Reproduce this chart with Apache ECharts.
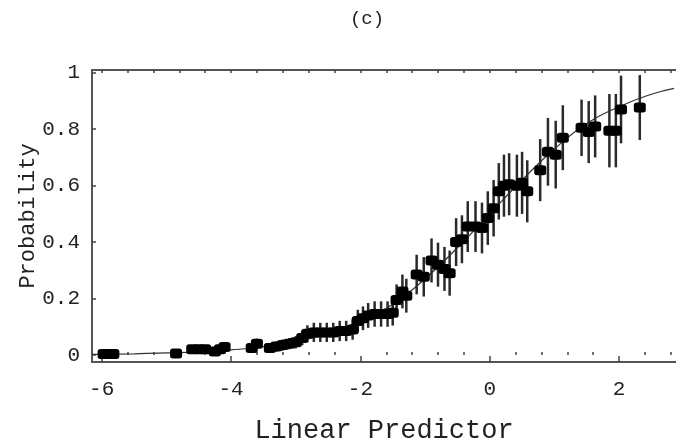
<!DOCTYPE html>
<html>
<head>
<meta charset="utf-8">
<script src="https://cdn.jsdelivr.net/npm/echarts@6/dist/echarts.min.js"></script>
<style>
  html, body { margin: 0; padding: 0; background: #fff; }
  #main { width: 676px; height: 440px; }
</style>
</head>
<body>
<div id="main"></div>
<script>
// observed points: linear predictor, probability, half width of error bar
const predictor = [-5.97, -5.9, -5.82, -4.85, -4.6, -4.5, -4.4, -4.25, -4.17, -4.1,
  -3.68, -3.6, -3.4, -3.3, -3.2, -3.1, -3.0, -2.9, -2.82, -2.72, -2.62, -2.52, -2.42,
  -2.32, -2.22, -2.12, -2.04, -1.96, -1.88, -1.78, -1.68, -1.58, -1.5, -1.44, -1.35,
  -1.29, -1.13, -1.02, -0.9, -0.8, -0.7, -0.62, -0.52, -0.43, -0.34, -0.22, -0.12,
  -0.03, 0.06, 0.14, 0.22, 0.3, 0.42, 0.5, 0.58, 0.78, 0.9, 1.02, 1.13, 1.42, 1.53,
  1.63, 1.85, 1.95, 2.03, 2.32]
const probability = [0.003, 0.003, 0.003, 0.005, 0.02, 0.02, 0.02, 0.012, 0.02, 0.028,
  0.025, 0.04, 0.025, 0.03, 0.035, 0.04, 0.045, 0.06, 0.075, 0.08, 0.08, 0.08, 0.08,
  0.085, 0.085, 0.09, 0.12, 0.13, 0.14, 0.145, 0.145, 0.145, 0.15, 0.195, 0.225,
  0.21, 0.285, 0.277, 0.335, 0.32, 0.305, 0.29, 0.40, 0.41, 0.455, 0.455, 0.45,
  0.485, 0.52, 0.58, 0.6, 0.605, 0.6, 0.61, 0.58, 0.655, 0.72, 0.71, 0.77, 0.805, 0.79,
  0.81, 0.795, 0.795, 0.87, 0.877]
const errHalf = [0.005, 0.005, 0.005, 0.006, 0.012, 0.012, 0.012, 0.01, 0.012, 0.014,
  0.014, 0.018, 0.016, 0.018, 0.02, 0.02, 0.022, 0.026, 0.03, 0.034, 0.034, 0.034, 0.034,
  0.036, 0.036, 0.036, 0.04, 0.042, 0.044, 0.045, 0.045, 0.045, 0.046, 0.055, 0.06,
  0.06, 0.07, 0.07, 0.078, 0.078, 0.078, 0.08, 0.085, 0.085, 0.09, 0.09, 0.09,
  0.095, 0.1, 0.1, 0.11, 0.11, 0.11, 0.11, 0.11, 0.11, 0.12, 0.12, 0.115, 0.1, 0.11,
  0.11, 0.13, 0.13, 0.12, 0.115]

// fitted curve
const curveX = [-6.15, -5.5, -5, -4.5, -4, -3.5, -3, -2.5, -2, -1.5, -1, -0.5, 0, 0.5, 1, 1.5, 2, 2.5, 2.85]
const curveY = [0.002, 0.004, 0.007, 0.011, 0.018, 0.029, 0.047, 0.076, 0.12, 0.18, 0.27, 0.38, 0.5, 0.62, 0.73, 0.82, 0.88, 0.924, 0.945]

// tick labels
const xMajor = [-6, -4, -2, 0, 2]
const xMinor = [-5.6, -5.2, -4.8, -4.4, -3.6, -3.2, -2.8, -2.4, -1.6, -1.2, -0.8, -0.4,
  0.4, 0.8, 1.2, 1.6, 2.4, 2.8]
const yMajor = [0, 0.2, 0.4, 0.6, 0.8, 1]

const chart = echarts.init(document.getElementById('main'))
const mono = 'Liberation Mono'
const frame = { lineStyle: { color: '#555', width: 2 } }

const points = predictor.map((x, i) => [x, probability[i]])
const bars = predictor.map((x, i) => [x, probability[i] - errHalf[i], probability[i] + errHalf[i]])
const curve = curveX.map((x, i) => [x, curveY[i]])

chart.setOption({
  animation: false,
  title: {
    text: '(c)',
    left: 362,
    top: 4,
    textAlign: 'center',
    textStyle: { fontFamily: mono, fontSize: 19, fontWeight: 'normal', color: '#222' },
  },
  grid: { left: 92, right: 0, top: 70, bottom: 78, outerBoundsMode: 'none', containLabel: false },
  xAxis: [
    {
      type: 'value',
      min: -6.15,
      max: 2.88,
      position: 'bottom',
      axisLine: { show: true, onZero: false, ...frame },
      splitLine: { show: false },
      axisTick: { inside: true, length: 6, customValues: xMajor, lineStyle: { color: '#444', width: 1.5 } },
      axisLabel: {
        customValues: xMajor,
        margin: 17,
        fontFamily: mono,
        fontSize: 21,
        color: '#222',
        formatter: v => (v < 0 ? '-' + Math.abs(v) : String(v)),
      },
      name: 'Linear Predictor',
      nameLocation: 'middle',
      nameGap: 55,
      nameTextStyle: { fontFamily: mono, fontSize: 27, color: '#222' },
    },
    {
      type: 'value',
      min: -6.15,
      max: 2.88,
      position: 'bottom',
      axisLine: { show: false },
      splitLine: { show: false },
      axisTick: { inside: true, length: 3, customValues: xMinor, lineStyle: { color: '#444', width: 1.5 } },
      axisLabel: { show: false },
    },
    {
      type: 'value',
      min: -6.15,
      max: 2.88,
      position: 'top',
      axisLine: { show: true, onZero: false, ...frame },
      splitLine: { show: false },
      axisTick: { inside: true, length: 3, customValues: xMajor.concat(xMinor), lineStyle: { color: '#444', width: 1.5 } },
      axisLabel: { show: false },
    },
  ],
  yAxis: [
    {
      type: 'value',
      min: -0.025,
      max: 1.01,
      position: 'left',
      axisLine: { show: true, onZero: false, ...frame },
      splitLine: { show: false },
      axisTick: { inside: true, length: 4, customValues: yMajor, lineStyle: { color: '#444', width: 1.5 } },
      axisLabel: {
        customValues: yMajor,
        margin: 12,
        fontFamily: mono,
        fontSize: 21,
        color: '#222',
      },
      name: 'Probability',
      nameLocation: 'middle',
      nameGap: 53,
      nameMoveOverlap: false,
      nameTextStyle: { fontFamily: mono, fontSize: 22, color: '#222' },
    },
  ],
  series: [
    {
      type: 'line',
      data: curve,
      smooth: true,
      showSymbol: false,
      lineStyle: { color: '#333', width: 1.2 },
      z: 2,
    },
    {
      type: 'custom',
      data: bars,
      renderItem: (params, api) => {
        const lo = api.coord([api.value(0), api.value(1)])
        const hi = api.coord([api.value(0), api.value(2)])
        return {
          type: 'line',
          shape: { x1: lo[0], y1: lo[1], x2: hi[0], y2: hi[1] },
          style: { stroke: '#2a2a2a', lineWidth: 2.5 },
        }
      },
      z: 3,
    },
    {
      type: 'scatter',
      data: points,
      symbol: 'roundRect',
      symbolSize: [12, 10],
      itemStyle: { color: '#000', opacity: 1 },
      z: 4,
    },
  ],
})
</script>
</body>
</html>
